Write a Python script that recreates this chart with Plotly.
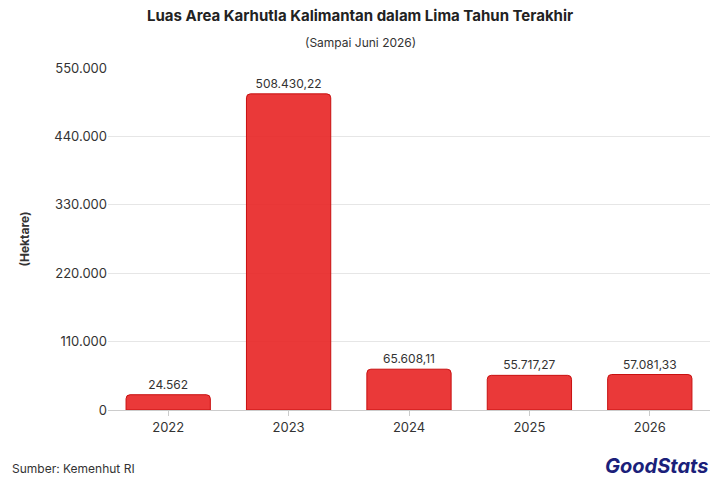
import plotly.graph_objects as go

years = ["2022", "2023", "2024", "2025", "2026"]
values = [24562, 508430.22, 65608.11, 55717.27, 57081.33]
labels = ["24.562", "508.430,22", "65.608,11", "55.717,27", "57.081,33"]
tickvals = [0, 110000, 220000, 330000, 440000, 550000]
ticktext = ["0", "110.000", "220.000", "330.000", "440.000", "550.000"]

W, H = 712, 472
L, R, T, B = 100, 10, 60, 70
OFF = 8
pw, ph = W - L - R, H - T - B

def px(x):
    return (x - OFF - L) / pw

def py(y):
    return (H - (y - OFF) - B) / ph

fig = go.Figure(go.Bar(
    x=years, y=values, text=labels, textposition="outside",
    textfont=dict(size=12, color="#333"),
    marker=dict(color="rgba(232,40,40,0.92)", line=dict(color="#c81010", width=1), cornerradius=4),
    width=0.7, cliponaxis=False,
))
fig.update_layout(
    width=W, height=H, plot_bgcolor="white", paper_bgcolor="white",
    font=dict(family="Inter, sans-serif", color="#333"),
    margin=dict(l=L, r=R, t=T, b=B),
    showlegend=False,
    annotations=[
        dict(text="<b>Luas Area Karhutla Kalimantan dalam Lima Tahun Terakhir</b>", x=px(360), y=py(15), xref="paper", yref="paper",
             showarrow=False, font=dict(size=15, color="#222"), xanchor="center", yanchor="middle"),
        dict(text="(Sampai Juni 2026)", x=px(360), y=py(42), xref="paper", yref="paper", showarrow=False,
             font=dict(size=12), xanchor="center", yanchor="middle"),
        dict(text="Sumber: Kemenhut RI", x=px(10), y=py(468), xref="paper", yref="paper", showarrow=False,
             xanchor="left", yanchor="middle", font=dict(size=12)),
        dict(text="<b><i>GoodStats</i></b>", x=px(710), y=py(466), xref="paper", yref="paper", showarrow=False,
             font=dict(size=20, color="#1b1f7a"), xanchor="right", yanchor="middle"),
    ],
    yaxis=dict(range=[0, 550000], tickvals=tickvals, ticktext=ticktext, gridcolor="#e6e6e6",
               title=dict(text="<b>(Hektare)</b>", font=dict(size=12), standoff=22), tickfont=dict(size=13), zeroline=False),
    xaxis=dict(tickfont=dict(size=13), showline=True, linecolor="#ccc", ticks="outside", tickcolor="#ccc"),
)
fig.write_html("out.html")
